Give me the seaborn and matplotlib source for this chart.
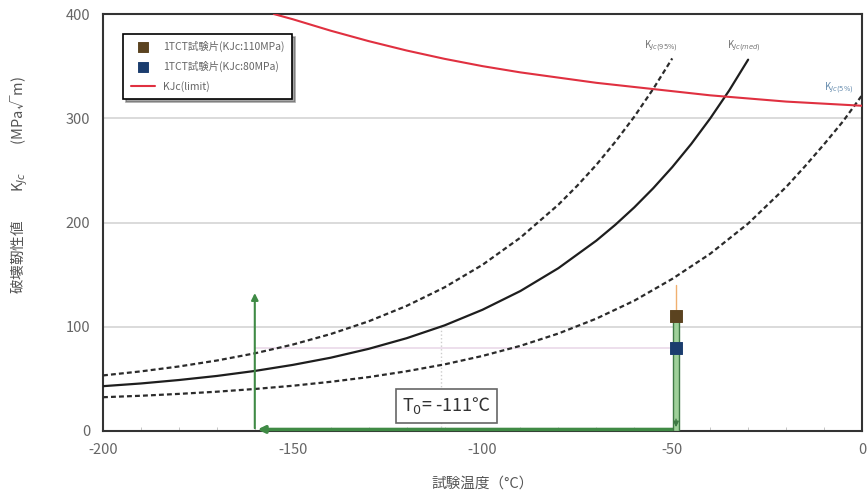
import numpy as np
import pandas as pd
import matplotlib
matplotlib.use("Agg")
import matplotlib.pyplot as plt
import seaborn as sns

# temperatures (deg C) and K_Jc values
temp_curve = [-200, -190, -180, -170, -160, -150, -140, -130, -120, -110,
              -100, -90, -80, -70, -65, -60, -55, -50, -45, -40, -35, -30]
k_med = [43, 45.6, 48.9, 52.8, 57.6, 63.4, 70.3, 78.8, 89.0, 101.3,
         116.3, 134.3, 156.2, 182.6, 197.8, 214.5, 232.9, 253.1, 275.3,
         299.8, 326.6, 356.2]

temp_upper = [-200, -190, -180, -170, -160, -150, -140, -130, -120, -110,
              -100, -90, -80, -75, -70, -65, -60, -55, -50]
k_upper = [53.3, 57.2, 61.9, 67.6, 74.5, 82.9, 93.0, 105.2, 120.0, 137.8,
           159.4, 185.5, 217.1, 235.4, 255.3, 277.4, 301.5, 328.2, 357.4]

temp_lower = [-200, -190, -180, -170, -160, -150, -140, -130, -120, -110,
              -100, -90, -80, -70, -60, -50, -40, -30, -20, -15, -10, -5, 0]
k_lower = [32.4, 33.8, 35.6, 37.7, 40.3, 43.4, 47.2, 51.7, 57.3, 63.9,
           72.0, 81.7, 93.5, 107.8, 125.0, 145.9, 170, 199, 234, 254,
           275, 297, 322]

temp_limit = [-155, -150, -140, -130, -120, -110, -100, -90, -80, -70,
              -60, -50, -40, -30, -20, -10, 0]
k_limit = [400, 395, 384, 374, 365, 357, 350, 344, 339, 334,
           330, 326, 322, 319, 316, 314, 312]

test_temp = -49
test_k = [110, 80]
test_labels = ["1TCT試験片(KJc:110MPa)", "1TCT試験片(KJc:80MPa)"]
test_colors = ["#5b4320", "#1b3d6e"]

T0 = -111
T_ref = -160       # start of green arrow
arrow_top = 135
orange_top = 140

sns.set_style("white")
plt.rcParams["font.family"] = ["Noto Sans CJK JP", "DejaVu Sans"]
plt.rcParams["axes.unicode_minus"] = False

fig = plt.figure(figsize=(8.67, 4.97), dpi=100)
ax = fig.add_axes([0.1188, 0.1328, 0.8754, 0.839])

# grid lines
for yv in [100, 200, 300]:
    ax.axhline(yv, color="#d8d8d8", lw=1.3, zorder=0)
ax.plot([T_ref, test_temp], [80, 80], color="#ecdcea", lw=1.3, zorder=0)
ax.plot([T0, T0], [0, 100], color="#cccccc", lw=1, ls=":", zorder=0)

# master curves
sns.lineplot(x=temp_upper, y=k_upper, ax=ax, color="#2b2b2b", lw=1.6,
             linestyle=(0, (2.2, 1.4)), zorder=3)
sns.lineplot(x=temp_curve, y=k_med, ax=ax, color="#1e1e1e", lw=1.6, zorder=3)
sns.lineplot(x=temp_lower, y=k_lower, ax=ax, color="#2b2b2b", lw=1.6,
             linestyle=(0, (2.2, 1.4)), zorder=3)
sns.lineplot(x=temp_limit, y=k_limit, ax=ax, color="#e03040", lw=1.5,
             label="KJc(limit)", zorder=3)

# green arrows
ax.annotate("", xy=(T_ref, arrow_top), xytext=(T_ref, 0),
            arrowprops=dict(arrowstyle="-|>", color="#3f8a45", lw=1.5,
                            mutation_scale=10), zorder=4)
ax.annotate("", xy=(T_ref, 1.5), xytext=(test_temp, 1.5),
            arrowprops=dict(arrowstyle="-|>", color="#3f8a45", lw=2.5,
                            mutation_scale=10), zorder=4)
ax.bar([test_temp], [test_k[0]], width=1.4, color="#9fd19a",
       edgecolor="#3f7a45", lw=1, zorder=4)
ax.annotate("", xy=(test_temp, 1), xytext=(test_temp, 14),
            arrowprops=dict(arrowstyle="-|>", color="#3f7a45", lw=1,
                            mutation_scale=8), zorder=5)
ax.plot([test_temp, test_temp], [test_k[0], orange_top], color="#f0b070",
        lw=1, zorder=4)

# test specimens
for k, lab, col in zip(test_k, test_labels, test_colors):
    sns.scatterplot(x=[test_temp], y=[k], ax=ax, marker="s", s=70,
                    color=col, edgecolor=col, label=lab, zorder=6)

# curve labels
ax.text(-53, 367, "K$_{Jc(95\\%)}$", fontsize=7, color="#777777",
        ha="center")
ax.text(-31, 367, "K$_{Jc(med)}$", fontsize=7, color="#777777",
        ha="center")
ax.text(-6, 326, "K$_{Jc(5\\%)}$", fontsize=7, color="#6a8fb0",
        ha="center")

ax.text(-109.5, 24, "T$_0$= -111℃", fontsize=13, color="#333333",
        ha="center", va="center",
        bbox=dict(boxstyle="square,pad=0.35", fc="white", ec="#666666",
                  lw=1.2), zorder=5)

ax.set_xlim(-200, 0)
ax.set_ylim(0, 400)
ax.set_xticks([-200, -150, -100, -50, 0])
ax.set_yticks([0, 100, 200, 300, 400])
ax.set_xticks(np.arange(-200, 1, 10), minor=True)
ax.tick_params(axis="both", which="major", labelsize=10.5,
               labelcolor="#666666", length=0, pad=9)
ax.tick_params(axis="x", which="minor", direction="in", length=3,
               color="#bbbbbb", bottom=True)
for sp in ax.spines.values():
    sp.set_color("#333333")
    sp.set_linewidth(1.5)

ax.set_xlabel("試験温度（°C）", fontsize=10.5, color="#555555", labelpad=14)
ax.set_ylabel("破壊靭性値　　K$_{Jc}$　　(MPa√m)", fontsize=10.5,
              color="#555555")
ax.yaxis.set_label_coords(-0.096, 0.59)

handles, labels = ax.get_legend_handles_labels()
order = [labels.index(l) for l in test_labels + ["KJc(limit)"]]
leg = ax.legend([handles[i] for i in order], [labels[i] for i in order],
                loc="upper left", bbox_to_anchor=(0.02, 0.965), fontsize=7.5,
                frameon=True, fancybox=False, shadow=True, handlelength=2.3,
                labelcolor="#666666", borderpad=0.7, labelspacing=0.85,
                markerscale=0.8)
leg.get_frame().set_edgecolor("black")
leg.get_frame().set_linewidth(1.2)

fig.savefig("out.png", dpi=100)
